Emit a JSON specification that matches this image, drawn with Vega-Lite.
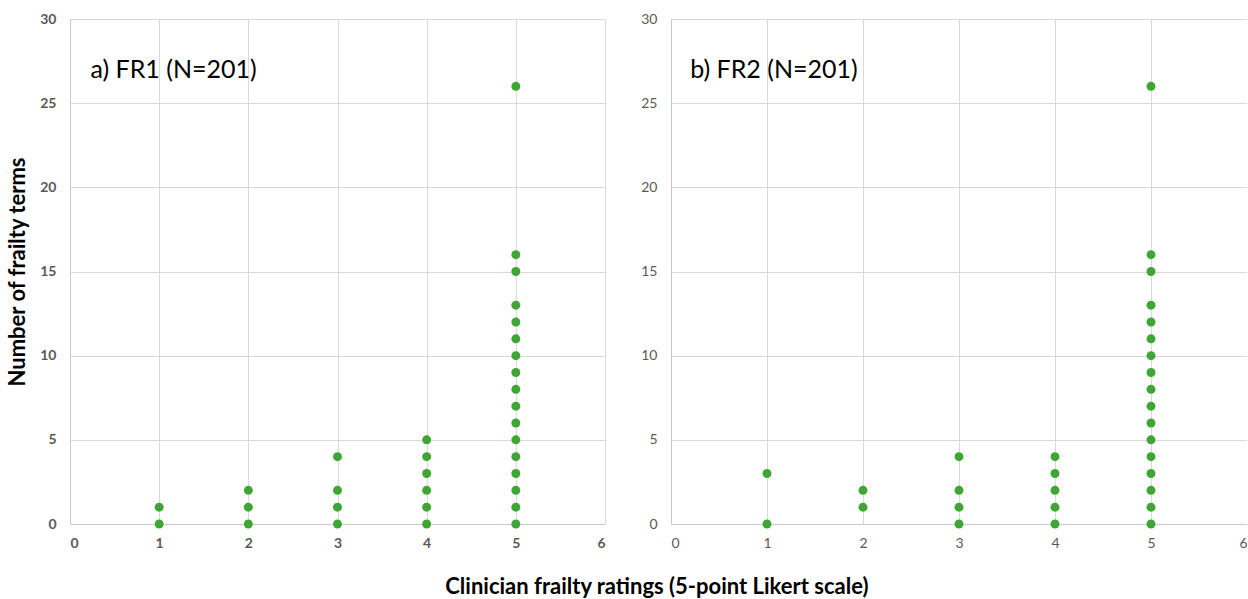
{
  "$schema": "https://vega.github.io/schema/vega-lite/v6.json",
  "padding": {"left": 6, "top": 12, "right": 0, "bottom": 0},
  "background": "white",
  "datasets": {
    "fr1": [
      {"rating": 1, "terms": 0}, {"rating": 1, "terms": 1},
      {"rating": 2, "terms": 0}, {"rating": 2, "terms": 1}, {"rating": 2, "terms": 2},
      {"rating": 3, "terms": 0}, {"rating": 3, "terms": 1}, {"rating": 3, "terms": 2}, {"rating": 3, "terms": 4},
      {"rating": 4, "terms": 0}, {"rating": 4, "terms": 1}, {"rating": 4, "terms": 2}, {"rating": 4, "terms": 3}, {"rating": 4, "terms": 4}, {"rating": 4, "terms": 5},
      {"rating": 5, "terms": 0}, {"rating": 5, "terms": 1}, {"rating": 5, "terms": 2}, {"rating": 5, "terms": 3}, {"rating": 5, "terms": 4}, {"rating": 5, "terms": 5},
      {"rating": 5, "terms": 6}, {"rating": 5, "terms": 7}, {"rating": 5, "terms": 8}, {"rating": 5, "terms": 9}, {"rating": 5, "terms": 10}, {"rating": 5, "terms": 11},
      {"rating": 5, "terms": 12}, {"rating": 5, "terms": 13}, {"rating": 5, "terms": 15}, {"rating": 5, "terms": 16}, {"rating": 5, "terms": 26}
    ],
    "fr2": [
      {"rating": 1, "terms": 0}, {"rating": 1, "terms": 3},
      {"rating": 2, "terms": 1}, {"rating": 2, "terms": 2},
      {"rating": 3, "terms": 0}, {"rating": 3, "terms": 1}, {"rating": 3, "terms": 2}, {"rating": 3, "terms": 4},
      {"rating": 4, "terms": 0}, {"rating": 4, "terms": 1}, {"rating": 4, "terms": 2}, {"rating": 4, "terms": 3}, {"rating": 4, "terms": 4},
      {"rating": 5, "terms": 0}, {"rating": 5, "terms": 1}, {"rating": 5, "terms": 2}, {"rating": 5, "terms": 3}, {"rating": 5, "terms": 4}, {"rating": 5, "terms": 5},
      {"rating": 5, "terms": 6}, {"rating": 5, "terms": 7}, {"rating": 5, "terms": 8}, {"rating": 5, "terms": 9}, {"rating": 5, "terms": 10}, {"rating": 5, "terms": 11},
      {"rating": 5, "terms": 12}, {"rating": 5, "terms": 13}, {"rating": 5, "terms": 15}, {"rating": 5, "terms": 16}, {"rating": 5, "terms": 26}
    ]
  },
  "title": {
    "text": "Clinician frailty ratings (5-point Likert scale)",
    "orient": "bottom",
    "anchor": "middle",
    "font": "Lato",
    "fontSize": 22,
    "fontWeight": "bold",
    "color": "#000000",
    "offset": 27,
    "dx": 30
  },
  "config": {
    "view": {"stroke": null},
    "axis": {
      "grid": true,
      "gridColor": "#d9d9d9",
      "domainColor": "#c8c8c8",
      "ticks": false,
      "labelFont": "Lato",
      "labelFontSize": 14,
      "labelColor": "#595959",
      "titleFont": "Lato",
      "format": "d"
    }
  },
  "spacing": 35,
  "hconcat": [
    {
      "width": 535,
      "height": 505,
      "layer": [
        {
          "data": {"name": "fr1"},
          "mark": {"type": "circle", "size": 80, "color": "#3fa535", "opacity": 1},
          "encoding": {
            "x": {"field": "rating", "type": "quantitative", "scale": {"domain": [0, 6]},
                  "axis": {"values": [0, 1, 2, 3, 4, 5, 6], "labelFontWeight": "bold", "labelPadding": 12, "title": null}},
            "y": {"field": "terms", "type": "quantitative", "scale": {"domain": [0, 30]},
                  "axis": {"values": [0, 5, 10, 15, 20, 25, 30], "labelFontWeight": "bold", "labelPadding": 14,
                           "title": "Number of frailty terms", "titleFontSize": 22, "titleFontWeight": "bold", "titleColor": "#000000", "titlePadding": 10}}
          }
        },
        {
          "data": {"values": [{"label": "a) FR1 (N=201)"}]},
          "mark": {"type": "text", "align": "left", "baseline": "middle", "font": "Lato", "fontSize": 25, "color": "#000000"},
          "encoding": {
            "x": {"datum": 0.23, "type": "quantitative"},
            "y": {"datum": 27.0, "type": "quantitative"},
            "text": {"field": "label"}
          }
        }
      ]
    },
    {
      "width": 576,
      "height": 505,
      "layer": [
        {
          "data": {"name": "fr2"},
          "mark": {"type": "circle", "size": 80, "color": "#3fa535", "opacity": 1},
          "encoding": {
            "x": {"field": "rating", "type": "quantitative", "scale": {"domain": [0, 6]},
                  "axis": {"values": [0, 1, 2, 3, 4, 5, 6], "labelPadding": 12, "title": null}},
            "y": {"field": "terms", "type": "quantitative", "scale": {"domain": [0, 30]},
                  "axis": {"values": [0, 5, 10, 15, 20, 25, 30], "labelPadding": 14, "title": null}}
          }
        },
        {
          "data": {"values": [{"label": "b) FR2 (N=201)"}]},
          "mark": {"type": "text", "align": "left", "baseline": "middle", "font": "Lato", "fontSize": 25, "color": "#000000"},
          "encoding": {
            "x": {"datum": 0.2, "type": "quantitative"},
            "y": {"datum": 27.0, "type": "quantitative"},
            "text": {"field": "label"}
          }
        }
      ]
    }
  ]
}
